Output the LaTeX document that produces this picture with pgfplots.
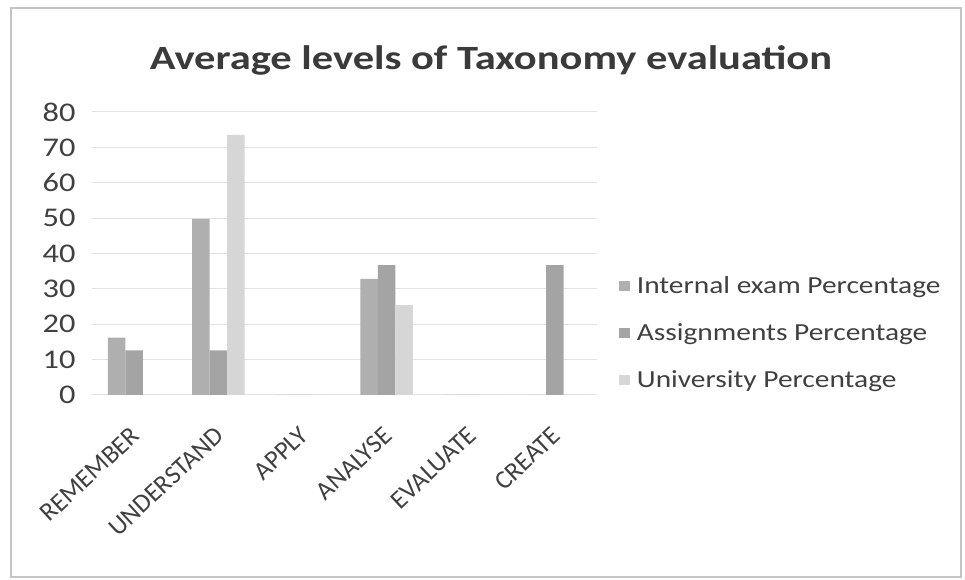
\documentclass[border=0pt]{standalone}
\usepackage{pgfplots}
\pgfplotsset{compat=1.18}
\usepackage{fontspec}
\setmainfont{Carlito}[FakeStretch=1.2]
\newfontfamily\titlefont{Carlito}[FakeStretch=1.25]
\newfontfamily\plainfont{Carlito}

\definecolor{internalc}{HTML}{AFAFAF}
\definecolor{assignc}{HTML}{A4A4A4}
\definecolor{univc}{HTML}{D6D6D6}
\definecolor{gridc}{HTML}{E2E2E2}
\definecolor{textc}{HTML}{404040}
\definecolor{framec}{HTML}{C4C4C4}

\begin{document}
\begin{tikzpicture}[x=1pt,y=1pt]
\useasboundingbox (0,0) rectangle (965,580);
% chart area frame
\draw[framec, line width=1.2pt] (11,3) rectangle (961,572);

\begin{axis}[
  at={(92pt,185pt)}, anchor=south west,
  scale only axis, width=505pt, height=283pt,
  ybar=0pt, bar width=17.5pt,
  xmin=-0.5, xmax=5.5,
  ymin=0, ymax=80, ytick={0,10,...,80},
  xtick={0,1,2,3,4,5},
  xticklabels={REMEMBER,UNDERSTAND,APPLY,ANALYSE,EVALUATE,CREATE},
  axis line style={draw=none},
  axis x line*=bottom,
  axis y line*=left,
  x axis line style={draw=gridc, line width=1pt},
  tick style={draw=none},
  ymajorgrids, grid style={gridc, line width=1pt},
  /pgf/number format/assume math mode=true,
  yticklabel style={font=\fontsize{27}{30}\selectfont, text=textc, xshift=-13pt},
  xticklabel style={font=\plainfont\fontsize{26}{30}\selectfont, text=textc, xshift=4pt, yshift=-30pt, rotate=43, anchor=east},
  title={Average levels of Taxonomy evaluation},
  title style={font=\titlefont\fontsize{34}{40}\selectfont\bfseries, text=textc!90!black, at={(0.79,1.16)}, anchor=center},
  legend style={at={(1.037,0.22)}, anchor=west, draw=none, fill=none,
    font=\fontsize{24.5}{30}\selectfont, text=textc, row sep=24.5pt,
    /tikz/every odd column/.append style={column sep=5pt}},
  legend image code/.code={\fill[#1] (0pt,-5pt) rectangle (11pt,5pt);},
  legend cell align=left,
]
\addplot[fill=internalc, draw=none] coordinates {(0,16.2) (1,49.8) (2,0) (3,32.8) (4,0) (5,0)};
\addplot[fill=assignc, draw=none] coordinates {(0,12.6) (1,12.6) (2,0) (3,36.7) (4,0) (5,36.7)};
\addplot[fill=univc, draw=none] coordinates {(0,0) (1,73.5) (2,0) (3,25.4) (4,0) (5,0)};
\legend{Internal exam Percentage, Assignments Percentage, University Percentage}
\end{axis}
\end{tikzpicture}
\end{document}
